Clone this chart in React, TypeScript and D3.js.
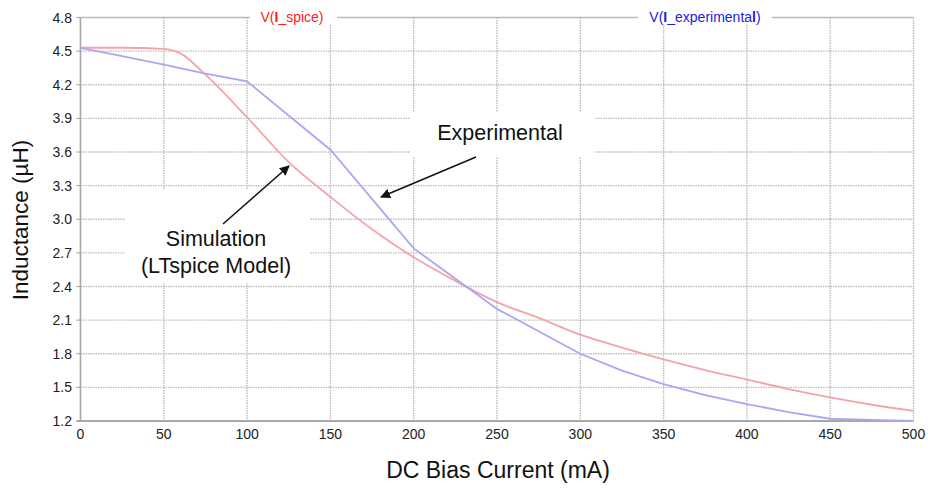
import React from "react";
import * as d3 from "d3";

const xTicks = [0, 50, 100, 150, 200, 250, 300, 350, 400, 450, 500];
const yTicks = [1.2, 1.5, 1.8, 2.1, 2.4, 2.7, 3.0, 3.3, 3.6, 3.9, 4.2, 4.5, 4.8];

const spiceCurrent = [0, 25, 50, 60, 75, 100, 125, 150, 175, 200, 225, 250, 275, 300, 325, 350, 375, 400, 425, 450, 475, 500];
const spiceL = [4.53, 4.53, 4.52, 4.48, 4.29, 3.91, 3.51, 3.2, 2.91, 2.66, 2.45, 2.26, 2.12, 1.97, 1.855, 1.75, 1.655, 1.57, 1.485, 1.41, 1.345, 1.29];

const expCurrent = [0, 25, 50, 75, 100, 150, 200, 250, 300, 325, 350, 375, 400, 425, 450, 475, 500];
const expL = [4.53, 4.455, 4.38, 4.3, 4.23, 3.62, 2.74, 2.2, 1.8, 1.65, 1.53, 1.43, 1.35, 1.28, 1.22, 1.21, 1.2];

const W = 928;
const H = 489;
const m = { left: 80.5, right: 913.5, top: 17.5, bottom: 421 };

export default function App() {
  const x = d3.scaleLinear().domain([0, 500]).range([m.left, m.right]);
  const y = d3.scaleLinear().domain([1.2, 4.8]).range([m.bottom, m.top]);

  const spice = spiceCurrent.map((c, i) => [c, spiceL[i]] as [number, number]);
  const exp = expCurrent.map((c, i) => [c, expL[i]] as [number, number]);

  const spiceLine = d3
    .line<[number, number]>()
    .x((d) => x(d[0]))
    .y((d) => y(d[1]))
    .curve(d3.curveMonotoneX);
  const expLine = d3
    .line<[number, number]>()
    .x((d) => x(d[0]))
    .y((d) => y(d[1]))
    .curve(d3.curveLinear);

  const font = "'Liberation Sans', Arial, sans-serif";
  const gridColor = "#bcbcbc";

  return (
    <svg
      width={W}
      height={H}
      viewBox={`0 0 ${W} ${H}`}
      style={{ position: "absolute", left: 0, top: 0, background: "#fff" }}
      fontFamily={font}
    >
      <defs>
        <marker id="arr" viewBox="0 0 10 10" refX="9" refY="5" markerWidth="10" markerHeight="10" orient="auto-start-reverse" markerUnits="userSpaceOnUse">
          <path d="M0,0 L10,5 L0,10 z" fill="#111" />
        </marker>
      </defs>
      <rect x={0} y={0} width={W} height={H} fill="#fff" />

      {/* grid */}
      {yTicks.map((t) => (
        <line
          key={"gy" + t}
          x1={m.left}
          x2={m.right}
          y1={y(t)}
          y2={y(t)}
          stroke={gridColor}
          strokeWidth={t === 4.8 ? 1.5 : 1.4}
          strokeDasharray={t === 4.8 ? undefined : "1.5,1"}
        />
      ))}
      {xTicks.map((t) => (
        <line
          key={"gx" + t}
          x1={x(t)}
          x2={x(t)}
          y1={m.top}
          y2={m.bottom}
          stroke={gridColor}
          strokeWidth={1.4}
          strokeDasharray="1.5,1"
        />
      ))}

      {/* white boxes behind texts */}
      <rect x={250} y={9} width={87} height={16} fill="#fff" />
      <rect x={638} y={9} width={134} height={16} fill="#fff" />
      <rect x={410} y={112} width={185} height={45} fill="#fff" />
      <rect x={125} y={190} width={185} height={93} fill="#fff" />

      {/* axes */}
      <line x1={m.left} x2={m.left} y1={m.top} y2={m.bottom} stroke="#a8a8a8" strokeWidth={1.5} />
      <line x1={m.left - 4} x2={m.right} y1={m.bottom} y2={m.bottom} stroke="#a8a8a8" strokeWidth={2} />
      {yTicks.map((t) => (
        <line key={"ty" + t} x1={m.left - 4} x2={m.left} y1={y(t)} y2={y(t)} stroke="#a8a8a8" strokeWidth={1.2} />
      ))}

      {/* tick labels */}
      {yTicks.map((t) => (
        <text key={"ly" + t} x={72} y={y(t)} dy="0.36em" textAnchor="end" fontSize={14} fill="#222">
          {t.toFixed(1)}
        </text>
      ))}
      {xTicks.map((t) => (
        <text key={"lx" + t} x={x(t)} y={439} textAnchor="middle" fontSize={14} fill="#222">
          {t}
        </text>
      ))}

      {/* legend labels */}
      <text x={292} y={17} dy="0.36em" textAnchor="middle" fontSize={14} fill="#ff1a1a">
        V(<tspan fontWeight="bold">I</tspan>_spice)
      </text>
      <text x={705} y={17} dy="0.36em" textAnchor="middle" fontSize={14} fill="#2020e0">
        V(<tspan fontWeight="bold">I</tspan>_experimenta<tspan fontWeight="bold">l</tspan>)
      </text>

      {/* curves */}
      <path d={spiceLine(spice) || ""} fill="none" stroke="#f5a3ab" strokeWidth={1.8} />
      <path d={expLine(exp) || ""} fill="none" stroke="#a8a8f2" strokeWidth={1.8} />

      {/* annotations */}
      <text x={500} y={140} textAnchor="middle" fontSize={21.5} fill="#111">
        Experimental
      </text>
      <line x1={476} y1={157} x2={381} y2={197} stroke="#111" strokeWidth={1.5} markerEnd="url(#arr)" />
      <text x={216} y={246} textAnchor="middle" fontSize={21.5} fill="#111">
        Simulation
      </text>
      <text x={216} y={273} textAnchor="middle" fontSize={21.5} fill="#111">
        (LTspice Model)
      </text>
      <line x1={223} y1={224} x2={289} y2={166} stroke="#111" strokeWidth={1.5} markerEnd="url(#arr)" />

      {/* axis titles */}
      <text
        transform={`translate(28, 220) rotate(-90)`}
        textAnchor="middle"
        fontSize={22.5}
        fill="#111"
      >
        Inductance (µH)
      </text>
      <text x={498} y={478} textAnchor="middle" fontSize={23} fill="#111">
        DC Bias Current (mA)
      </text>
    </svg>
  );
}
